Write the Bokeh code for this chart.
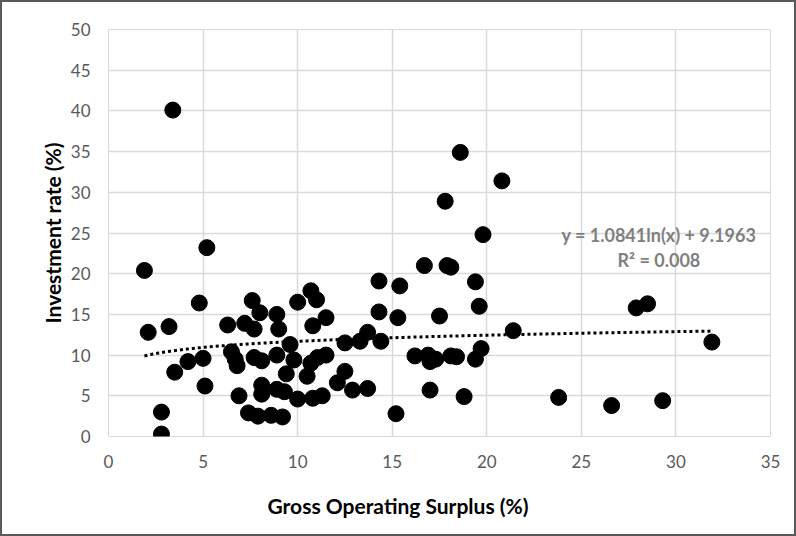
import numpy as np
from bokeh.plotting import figure
from bokeh.models import Range1d, FixedTicker, Label, ColumnDataSource, Title
from bokeh.embed import file_html
from bokeh.resources import INLINE

# Gross Operating Surplus (%)
gos = [1.9, 2.1, 2.8, 2.8, 3.2, 3.4, 3.5, 4.2, 4.8, 5.0, 5.1, 5.2, 6.3, 6.5, 6.7, 6.8, 6.9,
       7.2, 7.4, 7.6, 7.7, 7.7, 7.9, 8.0, 8.1, 8.1, 8.1, 8.6, 8.9, 8.9, 8.9, 9.0, 9.2, 9.3,
       9.4, 9.6, 9.8, 10.0, 10.0, 10.5, 10.7, 10.8, 10.7, 10.8, 11.0, 11.05, 11.3, 11.5, 11.5,
       12.1, 12.5, 12.5, 12.9, 13.3, 13.7, 13.7, 14.3, 14.3, 14.4, 15.2, 15.3, 15.4, 16.2,
       16.7, 16.9, 17.0, 17.0, 17.3, 17.5, 17.8, 17.9, 18.1, 18.1, 18.4, 18.6, 18.8, 19.4,
       19.4, 19.6, 19.7, 19.8, 20.8, 21.4, 23.8, 26.6, 27.9, 28.5, 29.3, 31.9]
# Investment rate (%)
inv = [20.4, 12.8, 3.0, 0.3, 13.5, 40.1, 7.9, 9.2, 16.4, 9.6, 6.2, 23.2, 13.7, 10.4, 9.5, 8.7, 5.0,
       13.9, 2.9, 16.7, 13.2, 9.7, 2.5, 15.2, 9.3, 6.3, 5.2, 2.6, 15.0, 10.0, 5.8, 13.2, 2.4, 5.5,
       7.7, 11.3, 9.4, 16.5, 4.6, 7.4, 17.9, 13.6, 9.0, 4.7, 16.8, 9.7, 5.0, 14.6, 10.0,
       6.6, 11.5, 8.0, 5.7, 11.7, 12.8, 5.9, 19.1, 15.3, 11.7, 2.8, 14.6, 18.5, 9.9,
       21.0, 10.0, 9.2, 5.7, 9.5, 14.8, 28.9, 21.0, 20.8, 9.9, 9.8, 34.9, 4.9, 19.0,
       9.5, 16.0, 10.8, 24.8, 31.4, 13.0, 4.8, 3.8, 15.8, 16.3, 4.4, 11.6]

# Logarithmic trendline coefficients (as displayed)
trend_a = 1.0841
trend_b = 9.1963
r_squared = 0.008

x_ticks = [0, 5, 10, 15, 20, 25, 30, 35]
y_ticks = [0, 5, 10, 15, 20, 25, 30, 35, 40, 45, 50]

FONT = "Lato"

p = figure(width=796, height=536, output_backend="svg", toolbar_location=None,
           x_range=Range1d(0, 35), y_range=Range1d(0, 50),
           min_border_left=106, min_border_right=28, min_border_top=27, min_border_bottom=101)
p.styles = {"border": "2px solid #5a5a5a"}

p.outline_line_color = "#d9d9d9"
p.background_fill_color = "white"
p.border_fill_color = "white"

for ax in (p.xaxis[0], p.yaxis[0]):
    ax.axis_line_color = None
    ax.major_tick_line_color = None
    ax.minor_tick_line_color = None
    ax.major_tick_out = 0
    ax.major_tick_in = 0
    ax.minor_tick_out = 0
    ax.major_label_text_font = FONT
    ax.major_label_text_font_size = "17px"
    ax.major_label_text_color = "#595959"

p.xaxis.ticker = FixedTicker(ticks=x_ticks)
p.yaxis.ticker = FixedTicker(ticks=y_ticks)
p.xaxis.major_label_standoff = 18
p.yaxis.major_label_standoff = 18

p.xgrid.ticker = FixedTicker(ticks=x_ticks)
p.ygrid.ticker = FixedTicker(ticks=y_ticks)
p.xgrid.grid_line_color = "#d9d9d9"
p.ygrid.grid_line_color = "#d9d9d9"
p.xgrid.grid_line_width = 1.5
p.ygrid.grid_line_width = 1.5

src = ColumnDataSource(dict(x=gos, y=inv))
p.scatter("x", "y", source=src, size=16, marker="circle", fill_color="black", line_color="black")

tx = np.linspace(min(gos), max(gos), 200)
ty = trend_a * np.log(tx) + trend_b
p.line(tx, ty, line_color="black", line_width=3, line_dash="3 3")

eq = Label(x=29.1, y=24.7, text=f"y = {trend_a}ln(x) + {trend_b}", text_align="center",
           text_baseline="middle", text_font=FONT, text_font_style="bold",
           text_font_size="18px", text_color="#7f7f7f")
r2 = Label(x=29.1, y=21.7, text=f"R² = {r_squared}", text_align="center",
           text_baseline="middle", text_font=FONT, text_font_style="bold",
           text_font_size="18px", text_color="#7f7f7f")
p.add_layout(eq)
p.add_layout(r2)

xt = Title(text="Gross Operating Surplus (%)", align="left", offset=159,
           text_font=FONT, text_font_style="bold", text_font_size="21px",
           text_color="black", standoff=41)
yt = Title(text="Investment rate (%)", align="center", offset=21,
           text_font=FONT, text_font_style="bold", text_font_size="21px",
           text_color="black", standoff=5)
p.add_layout(xt, "below")
p.add_layout(yt, "left")

open("out.html", "w").write(file_html(p, INLINE))
